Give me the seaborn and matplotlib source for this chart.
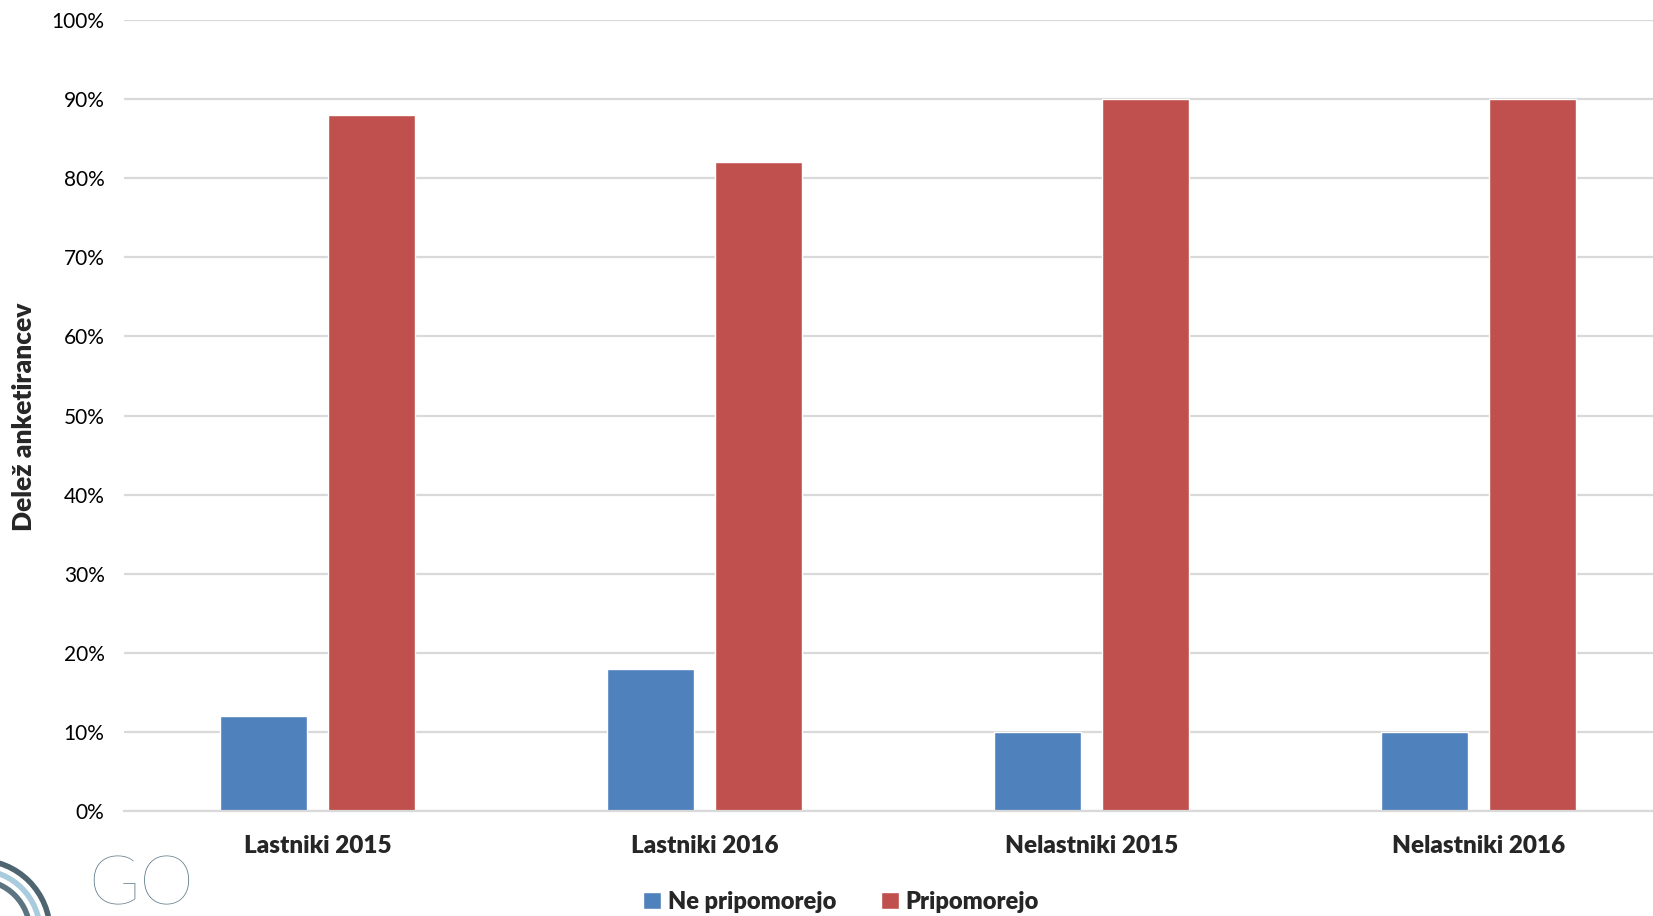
import matplotlib
matplotlib.use("Agg")
import matplotlib.pyplot as plt
import seaborn as sns
import pandas as pd
from matplotlib.patches import Arc
from matplotlib.ticker import PercentFormatter

categories = ["Lastniki 2015", "Lastniki 2016", "Nelastniki 2015", "Nelastniki 2016"]
series = ["Ne pripomorejo", "Pripomorejo"]
ne_pripomorejo = [12, 18, 10, 10]
pripomorejo = [88, 82, 90, 90]
y_ticks = [0, 10, 20, 30, 40, 50, 60, 70, 80, 90, 100]

df = pd.DataFrame({
    "Kategorija": categories * 2,
    "Odgovor": [series[0]] * 4 + [series[1]] * 4,
    "Delez": ne_pripomorejo + pripomorejo,
})

sns.set_style("white")
plt.rcParams["font.family"] = ["Lato", "DejaVu Sans"]

W, H = 1653, 916
fig = plt.figure(figsize=(W / 100, H / 100), dpi=100)
ax = fig.add_axes([124 / W, 1 - 811 / H, 1548 / W, 791 / H])

sns.barplot(data=df, x="Kategorija", y="Delez", hue="Odgovor",
            palette=["#4F81BD", "#C0504D"], width=0.56, gap=0.2,
            saturation=1, ax=ax, legend=True)

ax.set_ylim(0, 100)
ax.set_xlim(-0.5, 3.5)
ax.set_yticks(y_ticks)
ax.yaxis.set_major_formatter(PercentFormatter(decimals=0))
ax.grid(axis="y", color="#D9D9D9", linewidth=1.6)
ax.set_axisbelow(True)
for s in ["top", "right", "left"]:
    ax.spines[s].set_visible(False)
ax.spines["bottom"].set_color("#D9D9D9")
ax.spines["bottom"].set_linewidth(1.6)
ax.tick_params(axis="y", length=0, labelsize=15, pad=14, colors="black")
ax.tick_params(axis="x", length=0, labelsize=17.5, pad=17)
for t in ax.get_xticklabels():
    t.set_fontweight("heavy")
ax.set_xlabel("")
ax.set_ylabel("")
fig.text(24 / W, 1 - 417 / H, "Delež anketirancev", rotation=90, ha="center",
         va="center", fontsize=19, fontweight="heavy")

ax.get_legend().remove()
handles, labels = ax.get_legend_handles_labels()
fig.legend(handles, labels, loc="center", bbox_to_anchor=(841 / W, 1 - 902 / H),
           ncol=2, frameon=False, prop={"size": 17, "weight": "heavy"},
           handlelength=0.75, handleheight=0.75, handletextpad=0.3, columnspacing=1.9)

# faint logo fragment in the lower left corner
fig.text(88 / W, 1 - 886 / H, "GO", fontsize=50, color="#5F7A88", ha="left",
         va="center", fontweight="light", family=["Lato", "DejaVu Sans"])
for r, c in [(72, "#4E6470"), (62, "#A8CCDD"), (52, "#5C7380")]:
    fig.patches.append(Arc((-22, -16), 2 * r, 2 * r, theta1=0, theta2=90,
                           transform=None, color=c, linewidth=4))

fig.savefig("out.png", dpi=100)
